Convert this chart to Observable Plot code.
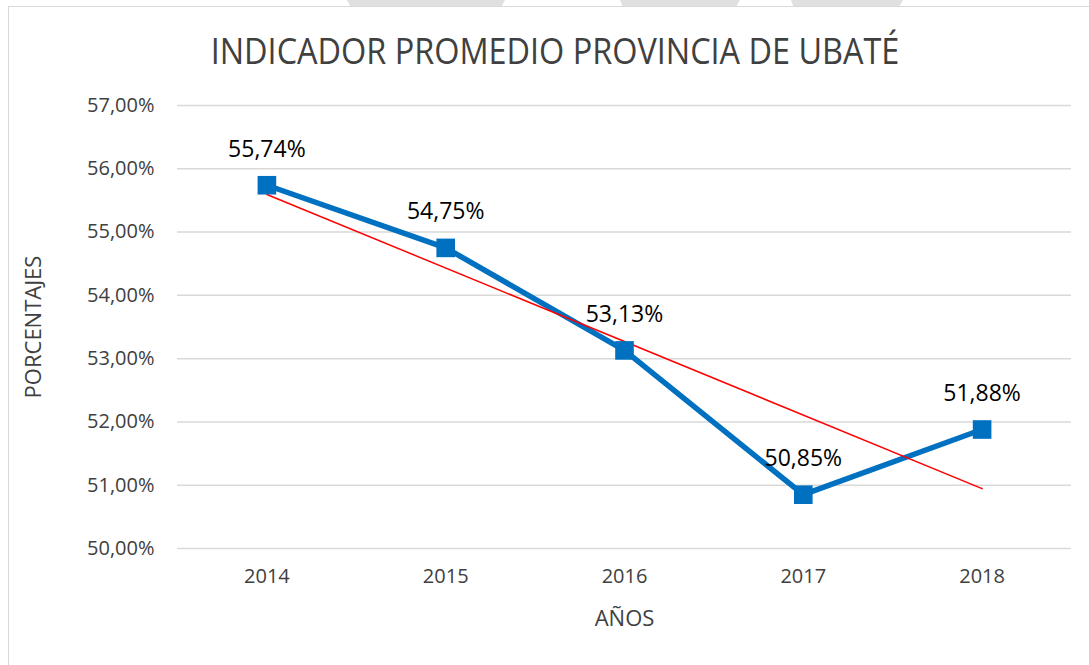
<!DOCTYPE html>
<html>
<head>
<meta charset="utf-8">
<script src="https://cdn.jsdelivr.net/npm/d3@7"></script>
<script src="https://cdn.jsdelivr.net/npm/@observablehq/plot@0.6"></script>
<style>
  html, body { margin: 0; padding: 0; background: #fff; }
  #wrap { position: relative; width: 1089px; height: 665px; overflow: hidden; background: #fff; }
  .wm { position: absolute; top: 0; height: 6px; background: #e0e0e0; }
  #frame { position: absolute; left: 8px; top: 6px; width: 1100px; height: 700px; border: 1.5px solid #d9d9d9; box-sizing: border-box; }
  #title { position: absolute; left: 555px; top: 26px; white-space: nowrap;
           transform: translateX(-50%) scaleX(0.9);
           font-family: "Open Sans", sans-serif; font-size: 36px; color: #404040; }
  #chart { position: absolute; left: 0; top: 0; }
</style>
</head>
<body>
<div id="wrap">
  <div class="wm" style="left:347px;width:158px;clip-path:polygon(0 0,100% 0,98% 100%,2% 100%)"></div>
  <div class="wm" style="left:620px;width:120px;clip-path:polygon(0 0,100% 0,97% 100%,2% 100%)"></div>
  <div class="wm" style="left:791px;width:112px;clip-path:polygon(0 0,100% 0,97% 100%,2% 100%)"></div>
  <div id="frame"></div>
  <div id="title"></div>
  <div id="chart"></div>
</div>
<script>
const years = [2014, 2015, 2016, 2017, 2018];
const values = [55.74, 54.75, 53.13, 50.85, 51.88];
const yTicks = [50, 51, 52, 53, 54, 55, 56, 57];
const title = "INDICADOR PROMEDIO PROVINCIA DE UBATÉ";
const xLabel = "AÑOS";
const yLabel = "PORCENTAJES";

document.getElementById("title").textContent = title;

const data = years.map((y, i) => ({year: y, value: values[i]}));
const pct = v => v.toFixed(2).replace(".", ",") + "%";

const chart = Plot.plot({
  width: 1089,
  height: 665,
  marginTop: 105,
  marginBottom: 117,
  marginLeft: 177,
  marginRight: 18,
  style: {fontFamily: "'Open Sans', sans-serif", fontSize: "20px", color: "#404040", background: "transparent"},
  x: {domain: [2013.5, 2018.5]},
  y: {domain: [50, 57]},
  marks: [
    Plot.gridY(yTicks, {stroke: "#d9d9d9", strokeOpacity: 1, strokeWidth: 1.5}),
    Plot.axisY(yTicks, {tickSize: 0, tickPadding: 23, tickFormat: pct, fontSize: 20, fill: "#404040", label: null}),
    Plot.axisX(years, {tickSize: 0, tickPadding: 20, tickFormat: d => String(d), fontSize: 20, fill: "#404040", label: null}),
    Plot.text([yLabel], {frameAnchor: "left", textAnchor: "middle", lineAnchor: "middle", rotate: -90, dx: -144, fontSize: 22, fill: "#404040"}),
    Plot.text([xLabel], {frameAnchor: "bottom", textAnchor: "middle", lineAnchor: "middle", dy: 70, fontSize: 22, fill: "#404040"}),
    Plot.line(data, {x: "year", y: "value", stroke: "#0070C0", strokeWidth: 5.5}),
    Plot.linearRegressionY(data, {x: "year", y: "value", stroke: "#ff0000", strokeWidth: 1.5, ci: 0}),
    Plot.dot(data, {x: "year", y: "value", symbol: "square", r: 10.5, fill: "#0070C0", stroke: "none"}),
    Plot.text(data, {x: "year", y: "value", text: d => pct(d.value), dy: -36, fontSize: 23, fill: "#000"})
  ]
});
document.getElementById("chart").appendChild(chart);
</script>
</body>
</html>
